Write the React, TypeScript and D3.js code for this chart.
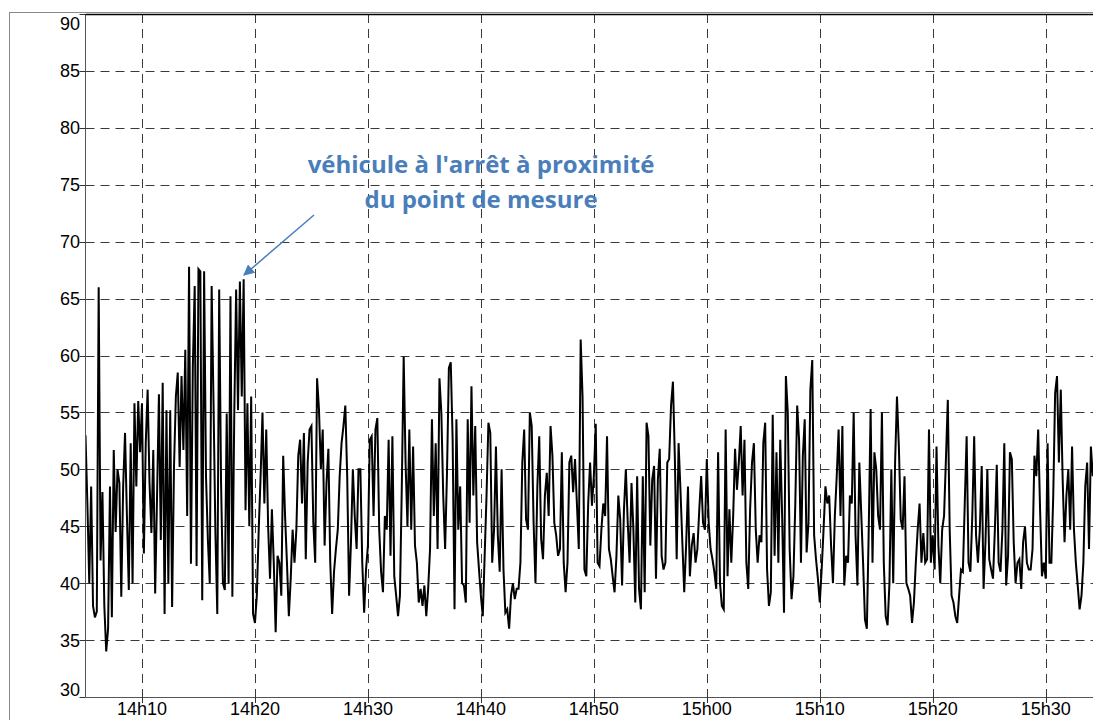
import { useEffect, useRef } from 'react'
import * as d3 from 'd3'

// sound level (dB), one reading every 10 s, from 14h05:00
const lvl1405 = [53, 47, 40, 48.5, 38, 37, 37.5, 66, 42, 48, 38, 34, 36, 48.5, 37, 51.7, 44.5, 50, 48.8, 38.8, 48.5, 53.2, 45.9, 39.4, 52.3, 40, 55.8, 48.5, 56, 51.5]
const lvl1410 = [55.8, 42.6, 52.3, 57.0, 48.8, 44.4, 51.7, 39.1, 47.6, 56.6, 43.8, 57.6, 37.3, 55.2, 40.0, 55.2, 37.9, 50.2, 56.4, 58.5, 50.2, 58.2, 51.7, 60.5, 45.9, 67.8, 41.7, 59.0, 66.1, 41.5, 67.6, 67.4, 38.5, 67.4, 49.4, 43.8, 40.0, 66.1, 55.8, 44.4, 37.3, 65.8, 48.8, 40.0, 39.4, 54.9, 40.0, 65.2, 38.8, 54.6, 65.8, 55.2, 66.5, 56.4, 66.7, 46.4, 55.8, 45.0, 56.4, 37.3]
const lvl1420 = [36.5, 38.9, 44.7, 49.4, 55, 47, 53.5, 45, 40.4, 46.5, 41.8, 35.7, 42.4, 41.8, 38.9, 51.2, 45.9, 41.8, 37.1, 40.4, 44.7, 41.8, 44.7, 51.2, 52.6, 47, 53.2, 42.1, 50.6, 53.5, 53.8, 45.3, 41.8, 58, 55.3, 50, 53.5, 43.3, 48.8, 51.8, 41.8, 37.3, 41, 43, 44.7, 49.4, 52.3, 53.8, 55.6, 49.4, 38.9, 43.6, 50, 45.9, 43, 50, 50, 41.8, 37.4, 41.2]
const lvl1430 = [43.3, 52.6, 52.9, 45.9, 53.5, 54.5, 44.7, 41, 39.2, 45.9, 44.7, 52.6, 42.4, 52.9, 40.6, 38.9, 37.1, 38.9, 48.5, 59.9, 50.6, 45, 53.5, 44.7, 52, 43.3, 41.8, 38.3, 39.5, 38, 39.8, 37.1, 39.5, 43, 54.4, 45.9, 52.3, 43, 58, 55, 47.7, 43, 49.7, 58.9, 59.4, 52.6, 37.7, 54.4, 44.7, 48.5, 40, 39.8, 38.3, 54.4, 45.3, 57.3, 47.7, 53.8, 43.6, 41.2]
const lvl1440 = [38.9, 37.1, 42.4, 47.7, 54.1, 53.2, 41.8, 44.7, 52, 44.2, 41, 50, 41.2, 37.4, 37.7, 36, 38.9, 40, 38.6, 39.5, 39.5, 41.8, 50.6, 53.5, 45.6, 44.7, 55, 53.8, 45.3, 40, 48.5, 52.9, 43.9, 42.1, 47.7, 49.7, 45.9, 53.8, 51.2, 45.3, 44.2, 42.4, 43, 51.5, 41.8, 39.2, 41.8, 50.6, 51.2, 48, 50.9, 47, 43, 61.4, 56.4, 41.2, 40.6, 47, 50.6, 46.8]
const lvl1450 = [49.4, 54, 41.8, 41.5, 44.7, 47, 45.9, 52.9, 43, 42.1, 40.6, 39.2, 42.4, 47.7, 45.6, 39.8, 46.5, 50, 45.3, 41.8, 48.8, 44.7, 38.3, 49.4, 39.5, 37.7, 49.4, 39.2, 54.1, 52.9, 43.3, 49.1, 50.3, 40.4, 49.1, 51.8, 42.4, 41.2, 41.8, 50.6, 50.9, 55.6, 57.7, 51.2, 42.1, 52.3, 48.2, 43.6, 39.2, 43.3, 48.5, 40.6, 43.3, 44.4, 41.8, 43, 46.5, 49.4, 45.3, 44.7]
const lvl1500 = [50.9, 45.3, 43, 42.1, 41, 39.5, 51.5, 40, 38, 37.7, 53.5, 40.6, 46.5, 41.8, 45.9, 51.8, 48.2, 50.6, 53.8, 47.7, 52.6, 41.8, 39.5, 46.5, 50.6, 52.3, 44.7, 41.8, 44.2, 43.6, 52.3, 54.1, 41.2, 38, 39.2, 54.8, 42.4, 51.5, 41.8, 52.6, 45.9, 37.4, 58.2, 55, 43, 38.6, 40.6, 47, 55.6, 52.6, 41.8, 51.2, 54.4, 42.7, 45.3, 57, 59.6, 44.2, 42.1, 40.4]
const lvl1510 = [38.3, 41.2, 44.7, 48.5, 47, 47.7, 43.3, 40, 45.9, 49.4, 53.5, 45.9, 53.8, 39.8, 42.4, 41.8, 47.7, 47, 55, 44.2, 39.8, 50.6, 46.2, 41.8, 36.8, 36, 44.7, 55.3, 41.8, 51.5, 50, 45.9, 44.7, 55, 41.8, 37.1, 36.3, 40, 50, 40, 50.6, 56.4, 52, 45.6, 44.7, 49.4, 40, 39.5, 38.9, 36.5, 38.3, 41.8, 44.7, 47, 41.8, 44.4, 41.8, 42.1, 53.5, 41.8]
const lvl1520 = [44.2, 41.2, 52, 43.3, 40, 44.7, 45.9, 50.9, 56.1, 44.7, 38.9, 38.3, 37.1, 36.5, 38.9, 41.2, 41, 47, 52.9, 41.8, 41, 45.9, 52.9, 44.2, 41.8, 44.7, 50.3, 39.5, 43.6, 50, 42.1, 41.2, 40.4, 44.7, 50.4, 41.8, 41, 44.7, 52.3, 39.8, 42.4, 51.5, 50.9, 43.6, 40, 41.8, 42.1, 39.5, 43.6, 45, 41.8, 41.2, 41.2, 43, 51.2, 49.4, 53.5, 46.5, 40.6, 41.8]
const lvl1530 = [40.4, 52.3, 41.8, 41.8, 47.7, 56.7, 58.2, 50.6, 57, 49.1, 43.6, 47.7, 50, 44.7, 52, 44.7, 41.8, 39.8, 37.7, 38.9, 41.8, 48.5, 50.6, 43, 52, 49.4]

const startLabel = '14h05'
const stepSeconds = 10
const yTicks = [30, 35, 40, 45, 50, 55, 60, 65, 70, 75, 80, 85, 90]
const xTickLabels = ['14h10', '14h20', '14h30', '14h40', '14h50', '15h00', '15h10', '15h20', '15h30']
const note = ["véhicule à l'arrêt à proximité", 'du point de mesure']

const toMin = (s: string) => {
  const [h, m] = s.split('h').map(Number)
  return h * 60 + m
}

export default function App() {
  const ref = useRef<SVGSVGElement | null>(null)

  useEffect(() => {
    if (!ref.current) return
    const svg = d3.select(ref.current)
    svg.selectAll('*').remove()

    const levels = [
      ...lvl1405, ...lvl1410, ...lvl1420, ...lvl1430, ...lvl1440,
      ...lvl1450, ...lvl1500, ...lvl1510, ...lvl1520, ...lvl1530,
    ]

    const left = 85.5
    const top = 14
    const bottom = 697
    const t0 = toMin(startLabel)
    const x = d3.scaleLinear().domain([t0, t0 + 90]).range([left, 1102.2])
    const y = d3.scaleLinear().domain([30, 90]).range([bottom, top])
    const font = "'Liberation Sans', Arial, sans-serif"

    // outer frame
    svg.append('rect')
      .attr('x', 9.5).attr('y', 12.5)
      .attr('width', 1200).attr('height', 800)
      .attr('fill', 'none').attr('stroke', '#8a8a8a')

    svg.append('rect')
      .attr('x', left).attr('y', top)
      .attr('width', x.range()[1] - left).attr('height', bottom - top)
      .attr('fill', '#fff')

    const defs = svg.append('defs')
    defs.append('clipPath').attr('id', 'plot-clip')
      .append('rect')
      .attr('x', left).attr('y', top)
      .attr('width', x.range()[1] - left).attr('height', bottom - top)

    defs.append('marker')
      .attr('id', 'arrow-head')
      .attr('viewBox', '0 0 10 10')
      .attr('refX', 9).attr('refY', 5)
      .attr('markerWidth', 13).attr('markerHeight', 11)
      .attr('markerUnits', 'userSpaceOnUse')
      .attr('orient', 'auto')
      .append('path')
      .attr('d', 'M0,0 L10,5 L0,10 Z')
      .attr('fill', '#4a7ebb')

    const grid = svg.append('g').attr('stroke', '#3a3a3a').attr('stroke-dasharray', '9,6')
    grid.selectAll('.gy')
      .data(yTicks.filter((v) => v > 30 && v < 90))
      .enter()
      .append('line')
      .attr('x1', left).attr('x2', x.range()[1])
      .attr('y1', (d) => Math.round(y(d)) + 0.5)
      .attr('y2', (d) => Math.round(y(d)) + 0.5)
    grid.selectAll('.gx')
      .data(xTickLabels)
      .enter()
      .append('line')
      .attr('x1', (d) => Math.round(x(toMin(d))) + 0.5)
      .attr('x2', (d) => Math.round(x(toMin(d))) + 0.5)
      .attr('y1', top).attr('y2', bottom)

    const line = d3.line<number>()
      .x((_, i) => x(t0 + (i * stepSeconds) / 60))
      .y((d) => y(d))

    svg.append('path')
      .datum(levels)
      .attr('clip-path', 'url(#plot-clip)')
      .attr('d', line)
      .attr('fill', 'none')
      .attr('stroke', '#000')
      .attr('stroke-width', 2)
      .attr('stroke-linejoin', 'miter')

    // plot border
    svg.append('line').attr('x1', left).attr('x2', left).attr('y1', top).attr('y2', bottom)
      .attr('stroke', '#555')
    svg.append('line').attr('x1', left).attr('x2', 1100).attr('y1', bottom + 0.5).attr('y2', bottom + 0.5)
      .attr('stroke', '#555')
    svg.append('line').attr('x1', left).attr('x2', 1100).attr('y1', top + 0.5).attr('y2', top + 0.5)
      .attr('stroke', '#000').attr('stroke-width', 1.5)

    // y axis
    const ya = svg.append('g')
    ya.selectAll('line')
      .data(yTicks)
      .enter()
      .append('line')
      .attr('x1', left - 6).attr('x2', left)
      .attr('y1', (d) => Math.round(y(d)) + 0.5)
      .attr('y2', (d) => Math.round(y(d)) + 0.5)
      .attr('stroke', '#333')
    ya.selectAll('text')
      .data(yTicks)
      .enter()
      .append('text')
      .attr('x', 80)
      .attr('y', (d) => y(d) + (d === 90 ? 9.5 : d === 30 ? -7 : 0))
      .attr('dy', '0.36em')
      .attr('text-anchor', 'end')
      .attr('font-family', font)
      .attr('font-size', 18)
      .attr('fill', '#000')
      .text((d) => d)

    // x axis
    const xa = svg.append('g')
    xa.selectAll('line')
      .data(xTickLabels)
      .enter()
      .append('line')
      .attr('x1', (d) => Math.round(x(toMin(d))) + 0.5)
      .attr('x2', (d) => Math.round(x(toMin(d))) + 0.5)
      .attr('y1', bottom).attr('y2', bottom + 6)
      .attr('stroke', '#333')
    xa.selectAll('text')
      .data(xTickLabels)
      .enter()
      .append('text')
      .attr('x', (d) => x(toMin(d)))
      .attr('y', 715)
      .attr('text-anchor', 'middle')
      .attr('font-family', font)
      .attr('font-size', 18)
      .attr('fill', '#000')
      .text((d) => d)

    // annotation
    const ann = svg.append('g')
      .attr('font-family', "'Open Sans', Lato, sans-serif")
      .attr('font-weight', 700)
      .attr('font-size', 24)
      .attr('fill', '#4a7ebb')
      .attr('text-anchor', 'middle')
    ann.selectAll('text')
      .data(note)
      .enter()
      .append('text')
      .attr('x', 481)
      .attr('y', (_, i) => 173 + i * 35)
      .text((d) => d)

    svg.append('line')
      .attr('x1', 314).attr('y1', 215)
      .attr('x2', 244).attr('y2', 275)
      .attr('stroke', '#4a7ebb')
      .attr('stroke-width', 1.5)
      .attr('marker-end', 'url(#arrow-head)')
  }, [])

  return (
    <svg
      ref={ref}
      width={1093}
      height={720}
      viewBox="0 0 1093 720"
      style={{ position: 'absolute', left: 0, top: 0, background: '#fff' }}
      role="img"
      aria-label="Niveau sonore"
    />
  )
}
